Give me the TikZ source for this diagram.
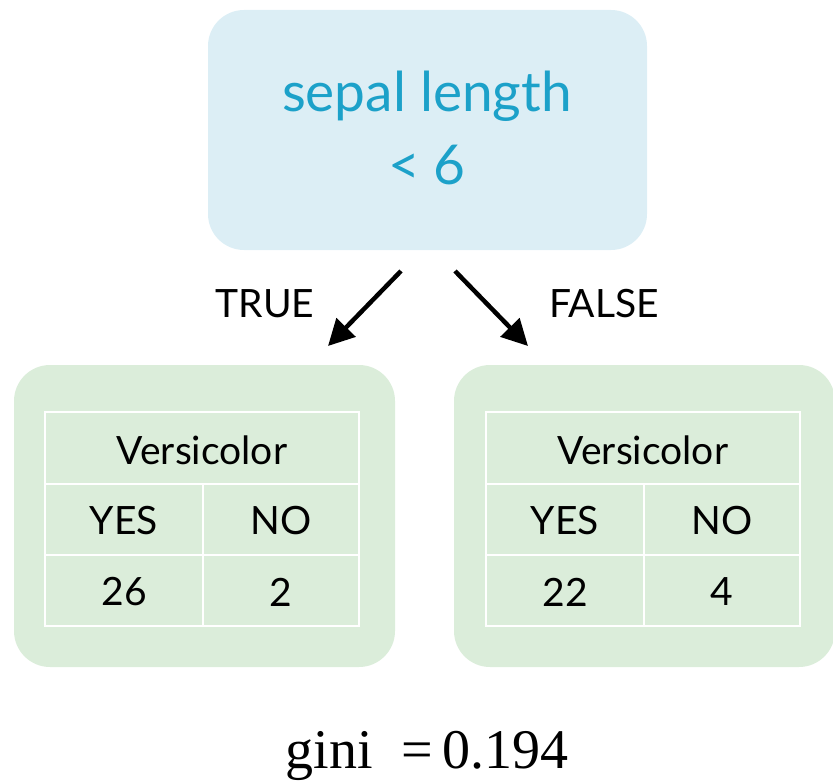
\documentclass[tikz,border=0pt]{standalone}
\usepackage{fontspec}
\setmainfont{Lato}
\newfontfamily\serifgini{Liberation Serif}
\usetikzlibrary{arrows.meta}
\definecolor{topfill}{HTML}{DCEEF5}
\definecolor{toptext}{HTML}{1CA1C9}
\definecolor{leaffill}{HTML}{DBEDDA}
\tikzset{
  topbox/.style={fill=topfill, rounded corners=36pt, draw=none},
  leafbox/.style={fill=leaffill, rounded corners=36pt, draw=none},
  grid/.style={draw=white, line width=2.6pt},
  celltext/.style={font=\fontsize{39}{44}\selectfont, text=black, inner sep=0pt},
  lbl/.style={font=\fontsize{39}{44}\selectfont, text=black, inner sep=0pt},
  arr/.style={line width=4.5pt, -{Triangle[length=26pt,width=26pt]}}
}
\begin{document}
\begin{tikzpicture}[x=1pt,y=-1pt]
\useasboundingbox (0,0) rectangle (833,781);
% top node
\fill[topbox] (208,10) rectangle (647,250);
\node[align=center, text=toptext, font=\fontsize{55}{73}\selectfont, inner sep=0pt] (top) at (427,128) {sepal length\\< 6};
% arrows
\coordinate (a1s) at (401,271); \coordinate (a1e) at (328,346);
\coordinate (a2s) at (455,271); \coordinate (a2e) at (528,346);
\draw[arr] (a1s) -- (a1e);
\draw[arr] (a2s) -- (a2e);
\node[lbl] (tl) at (265,304) {TRUE};
\node[lbl] (fl) at (604,304) {FALSE};
% leaves
\foreach \nm/\x/\tx/\a/\b in {L/14/45/26/2, R/454/486/22/4}{
  \fill[leafbox] (\x,365) rectangle ({\x+381},667);
  \draw[grid] (\tx,412) rectangle ({\tx+314},626);
  \draw[grid] (\tx,484) -- ({\tx+314},484);
  \draw[grid] (\tx,555) -- ({\tx+314},555);
  \draw[grid] ({\tx+158},484) -- ({\tx+158},626);
  \node[celltext] (\nm h) at ({\tx+157},450) {Versicolor};
  \node[celltext] (\nm y) at ({\tx+79},521) {YES};
  \node[celltext] (\nm n) at ({\tx+236},521) {NO};
  \node[celltext] (\nm a) at ({\tx+79},592) {\a};
  \node[celltext] (\nm b) at ({\tx+236},592) {\b};
}
\node[font=\serifgini\fontsize{56}{60}\selectfont, anchor=base, inner sep=0pt] (gini) at (427,768) {gini\enspace=\thinspace0.194};
\end{tikzpicture}
\end{document}
